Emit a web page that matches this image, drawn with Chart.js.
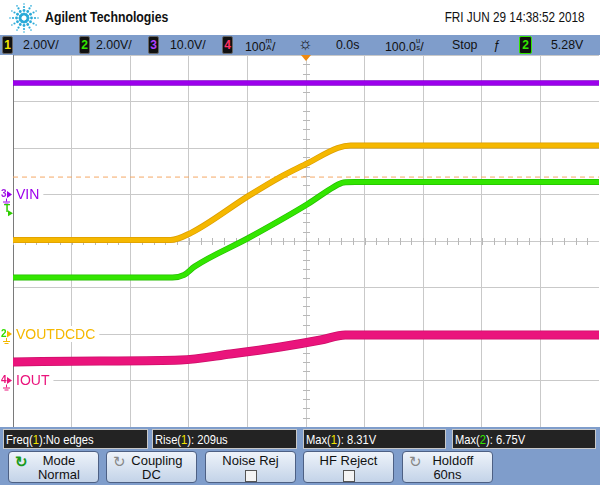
<!DOCTYPE html>
<html>
<head>
<meta charset="utf-8">
<script src="https://cdn.jsdelivr.net/npm/chart.js@4"></script>
<style>
  html,body{margin:0;padding:0;background:#fff;}
  body{width:600px;height:485px;position:relative;overflow:hidden;font-family:"Liberation Sans",Arial,sans-serif;}
  .abs{position:absolute;white-space:nowrap;}
  #brand{left:45px;top:8px;font-weight:bold;font-size:15px;transform:scaleX(0.82);transform-origin:0 0;color:#111;}
  #date{right:15px;top:9px;font-size:14px;transform:scaleX(0.84);transform-origin:100% 0;color:#111;}
  #status{left:0;top:35px;width:600px;height:20px;background:#7f9dcb;}
  .st{position:absolute;top:2px;font-size:13px;color:#111;transform:scaleX(0.95);transform-origin:0 0;}
  .nb{position:absolute;top:1px;width:9px;height:16px;background:#111;border:1px solid #666;border-radius:2px;font-size:12px;line-height:16px;text-align:center;font-weight:bold;}
  .stk{display:inline-block;font-size:8px;line-height:7px;vertical-align:1px;text-align:center;}
  #trig{left:301px;top:55px;width:0;height:0;border-left:5px solid transparent;border-right:5px solid transparent;border-top:6px solid #f08a10;z-index:3;}
  #plot{position:absolute;left:0;top:55px;}
  #meas{left:0;top:427px;width:600px;height:58px;background:#7f9dcb;}
  .mb{position:absolute;top:2px;height:20px;background:#232323;border:1px solid #c8c8c8;color:#fff;font-size:13px;line-height:20px;padding-left:2px;box-sizing:border-box;}
  .mb span{display:inline-block;transform:scaleX(0.86);transform-origin:0 0;}
  .key{position:absolute;top:24px;width:91px;height:32px;border:1px solid #4d6084;border-radius:4px;background:linear-gradient(#eef3fa,#c3d3e8);box-sizing:border-box;text-align:center;font-size:13px;line-height:14px;color:#111;padding-top:2px;}
  .key .ic{position:absolute;left:6px;top:3px;font-size:15px;}
  .cb{display:inline-block;width:10px;height:10px;border:1px solid #555;background:#f4f4f4;margin-top:2px;}
</style>
</head>
<body>
<svg id="logo" class="abs" style="left:8px;top:2px" width="32" height="32"></svg>
<div id="brand" class="abs">Agilent Technologies</div>
<div id="date" class="abs">FRI JUN 29 14:38:52 2018</div>

<div id="status" class="abs">
  <div class="nb" style="left:2px;color:#f2e600">1</div><div class="st" style="left:23px">2.00V/</div>
  <div class="nb" style="left:79px;color:#33e600">2</div><div class="st" style="left:96px">2.00V/</div>
  <div class="nb" style="left:148px;color:#b040ff">3</div><div class="st" style="left:170px">10.0V/</div>
  <div class="nb" style="left:222px;color:#ff3366">4</div><div class="st" style="left:245px">100<span class="stk">m<br>A</span>/</div>
  <div class="st" style="left:298px;font-size:17px;top:-1px">☼</div>
  <div class="st" style="left:336px">0.0s</div>
  <div class="st" style="left:385px">100.0<span class="stk">u<br>s</span>/</div>
  <div class="st" style="left:452px">Stop</div>
  <div class="st" style="left:493px;font-style:italic">ƒ</div>
  <div class="nb" style="left:519px;width:11px;color:#33e600;border-color:#33e600">2</div>
  <div class="st" style="left:551px">5.28V</div>
</div>
<div id="trig" class="abs"></div>

<canvas id="plot" width="599" height="372"></canvas>

<div id="meas" class="abs">
  <div class="mb" style="left:3px;width:145px"><span>Freq(<b style="color:#f2e600;font-weight:normal">1</b>):No edges</span></div>
  <div class="mb" style="left:152px;width:145px"><span>Rise(<b style="color:#f2e600;font-weight:normal">1</b>): 209us</span></div>
  <div class="mb" style="left:303px;width:143px"><span>Max(<b style="color:#f2e600;font-weight:normal">1</b>): 8.31V</span></div>
  <div class="mb" style="left:452px;width:144px"><span>Max(<b style="color:#33e600;font-weight:normal">2</b>): 6.75V</span></div>

  <div class="key" style="left:8px"><span class="ic" style="color:#1a9a1a;font-weight:bold">↻</span>&nbsp;&nbsp;&nbsp;Mode<br>&nbsp;&nbsp;&nbsp;Normal</div>
  <div class="key" style="left:106px"><span class="ic" style="color:#888">↻</span>&nbsp;&nbsp;&nbsp;Coupling<br>DC</div>
  <div class="key" style="left:205px">Noise Rej<br><span class="cb"></span></div>
  <div class="key" style="left:303px">HF Reject<br><span class="cb"></span></div>
  <div class="key" style="left:402px"><span class="ic" style="color:#888">↻</span>&nbsp;&nbsp;&nbsp;Holdoff<br>60ns</div>
</div>

<script>
// scope settings: volts (or mA) per division, ground marker position in divisions
const ch1 = {scale:2,   gnd:-2, color:'#f5b800', edge:'#dc9e00', label:'VOUTDCDC', num:'2', numColor:'#33dd00'};
const ch2 = {scale:2,   gnd:-2, color:'#33e600', edge:'#25be00'};
const ch3 = {scale:10,  gnd:1,  color:'#9c00ec', edge:'#7c00c8', label:'VIN', num:'3', numColor:'#a020e0'};
const ch4 = {scale:100, gnd:-3, color:'#ea147c', edge:'#cc0e68', label:'IOUT', num:'4', numColor:'#e8127a'};
const trigLevel = 5.28;   // V on ch2
const ch1Marker = 6.75;   // dashed level on ch1, V

// time in us (100us/div, 0 at centre)
const tVin  = [-500, 500];
const vVin  = [24.0, 24.0];

const tOut1 = [-500, -231, -197, -98, -44, 3, 54, 76, 500];
const vOut1 = [4.04, 4.04, 4.34, 5.94, 6.75, 7.35, 8.00, 8.11, 8.11];

const tOut2 = [-500, -228, -208, -190, -98, 3, 47, 64, 84, 500];
const vOut2 = [2.43, 2.43, 2.54, 2.90, 4.13, 5.59, 6.32, 6.52, 6.54, 6.54];

const tIout = [-500, -351, -214, -129, -44, 25, 67, 500];
const iIout = [40, 42, 44, 57, 72, 87, 98, 98];   // mA

const toDiv = (ch, t, v) => t.map((x, i) => ({x, y: v[i] / ch.scale + ch.gnd}));

// logo starburst
(function(){
  const svg = document.getElementById('logo');
  let s = '';
  for (let a = 0; a < 12; a++){
    const ang = a * Math.PI / 6;
    [[4,1.6],[7.5,1.4],[11,1.1],[14,0.8]].forEach(([r, sz]) => {
      s += `<circle cx="${16 + r*Math.cos(ang)}" cy="${16 + r*Math.sin(ang)}" r="${sz}" fill="#2aaad8"/>`;
    });
  }
  svg.innerHTML = s;
})();

const centerTicks = {
  id:'centerTicks',
  beforeDatasetsDraw(chart){
    const {ctx, scales:{x, y}} = chart;
    const x0 = x.getPixelForValue(0), y0 = y.getPixelForValue(0);
    ctx.save();
    ctx.strokeStyle = '#b8b8b8'; ctx.lineWidth = 1;
    ctx.beginPath();
    for (let t = -500; t <= 500; t += 20){
      const px = Math.round(x.getPixelForValue(t)) + 0.5;
      ctx.moveTo(px, y0 - 3); ctx.lineTo(px, y0 + 4);
    }
    for (let d = -4; d <= 4; d += 0.2){
      const py = Math.round(y.getPixelForValue(d)) + 0.5;
      ctx.moveTo(x0 - 3, py); ctx.lineTo(x0 + 4, py);
    }
    ctx.stroke();
    ctx.restore();
  }
};

const chLabels = {
  id:'chLabels',
  afterDatasetsDraw(chart){
    const {ctx, chartArea, scales:{y}} = chart;
    ctx.save();
    ctx.textBaseline = 'middle';
    [ch3, ch1, ch4].forEach(ch => {
      const py = y.getPixelForValue(ch.gnd);
      ctx.font = '14px "Liberation Sans", Arial, sans-serif';
      const w = ctx.measureText(ch.label).width;
      ctx.fillStyle = '#fff';
      ctx.fillRect(chartArea.left + 1, py - 8, w + 6, 16);
      ctx.fillStyle = ch.color;
      ctx.fillText(ch.label, chartArea.left + 3, py + 1);
      // ground marker in the left margin
      ctx.font = 'bold 10px "Liberation Sans", Arial, sans-serif';
      ctx.fillStyle = ch.numColor;
      ctx.fillText(ch.num, 1, py);
      ctx.fillStyle = ch.color;
      ctx.beginPath(); ctx.moveTo(7, py - 3.5); ctx.lineTo(12, py); ctx.lineTo(7, py + 3.5); ctx.fill();
      ctx.strokeStyle = ch.color; ctx.lineWidth = 1;
      ctx.beginPath(); ctx.moveTo(6.5, py + 4); ctx.lineTo(6.5, py + 7);
      ctx.moveTo(3, py + 7.5); ctx.lineTo(10, py + 7.5);
      ctx.moveTo(4.5, py + 9.5); ctx.lineTo(8.5, py + 9.5); ctx.stroke();
    });
    // trigger level marker
    const ty = y.getPixelForValue(trigLevel / ch2.scale + ch2.gnd);
    ctx.font = 'bold 10px "Liberation Sans", Arial, sans-serif';
    ctx.fillStyle = '#2ecc00';
    ctx.fillText('T', 4, ty - 2);
    ctx.beginPath(); ctx.moveTo(8, ty - 1); ctx.lineTo(13, ty + 2); ctx.lineTo(8, ty + 5); ctx.fill();
    ctx.restore();
  }
};

// Chart.js paints dataset 0 last (on top): bright core first, darker wider edge behind it
const trace = (ch, data, w) => [
  {data, borderColor: ch.color, borderWidth: w - 0.5, pointRadius: 0, cubicInterpolationMode: 'monotone'},
  {data, borderColor: ch.edge, borderWidth: w + 1, pointRadius: 0, cubicInterpolationMode: 'monotone'}
];

new Chart(document.getElementById('plot'), {
  type: 'line',
  data: {
    datasets: [
      ...trace(ch4, toDiv(ch4, tIout, iIout), 8),
      ...trace(ch2, toDiv(ch2, tOut2, vOut2), 5),
      ...trace(ch1, toDiv(ch1, tOut1, vOut1), 5),
      ...trace(ch3, toDiv(ch3, tVin, vVin), 4.5),
      {data: toDiv(ch1, [-500, 500], [ch1Marker, ch1Marker]), borderColor: '#f5a965', borderWidth: 1,
       borderDash: [5, 4], pointRadius: 0}
    ]
  },
  options: {
    responsive: false, animation: false,
    layout: {padding: {left: 13, right: 0, top: 0, bottom: 0}},
    plugins: {legend: {display: false}, tooltip: {enabled: false}},
    scales: {
      x: {type: 'linear', min: -500, max: 500,
          ticks: {display: false, stepSize: 100},
          grid: {color: '#c9c9c9', drawTicks: false}, border: {display: false}},
      y: {min: -4, max: 4,
          ticks: {display: false, stepSize: 1},
          grid: {color: '#c9c9c9', drawTicks: false}, border: {display: true, color: '#7a7a7a'}}
    }
  },
  plugins: [centerTicks, chLabels]
});
</script>
</body>
</html>
